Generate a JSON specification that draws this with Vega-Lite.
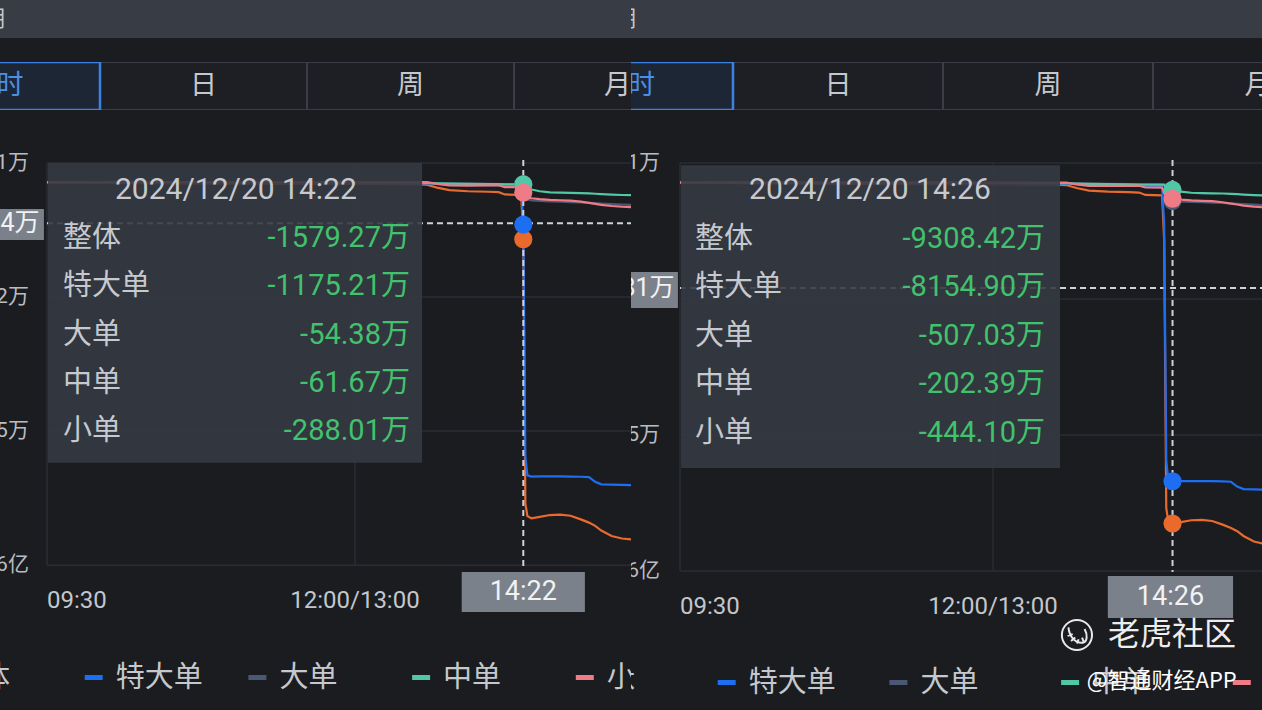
{
"$schema": "https://vega.github.io/schema/vega-lite/v6.json",
"background": "#1b1c20",
"padding": 0,
"config": {"view": {"stroke": null}, "concat": {"spacing": 0}},
"datasets": {
"lines": [
{"t":0,"s":"整体","v":0},{"t":0,"s":"特大单","v":0},{"t":0,"s":"大单","v":0},{"t":0,"s":"中单","v":0},{"t":0,"s":"小单","v":0},
{"t":30,"s":"整体","v":-20},{"t":30,"s":"特大单","v":-10},{"t":30,"s":"大单","v":-5},{"t":30,"s":"中单","v":5},{"t":30,"s":"小单","v":-10},
{"t":60,"s":"整体","v":-30},{"t":60,"s":"特大单","v":-15},{"t":60,"s":"大单","v":-10},{"t":60,"s":"中单","v":0},{"t":60,"s":"小单","v":-5},
{"t":90,"s":"整体","v":-40},{"t":90,"s":"特大单","v":-20},{"t":90,"s":"大单","v":-10},{"t":90,"s":"中单","v":-5},{"t":90,"s":"小单","v":-5},
{"t":120,"s":"整体","v":-45},{"t":120,"s":"特大单","v":-25},{"t":120,"s":"大单","v":-10},{"t":120,"s":"中单","v":-5},{"t":120,"s":"小单","v":-5},
{"t":150,"s":"整体","v":-50},{"t":150,"s":"特大单","v":-25},{"t":150,"s":"大单","v":-15},{"t":150,"s":"中单","v":-10},{"t":150,"s":"小单","v":0},
{"t":180,"s":"整体","v":-60},{"t":180,"s":"特大单","v":-30},{"t":180,"s":"大单","v":-15},{"t":180,"s":"中单","v":-15},{"t":180,"s":"小单","v":0},
{"t":185,"s":"整体","v":-70},{"t":185,"s":"特大单","v":-30},{"t":185,"s":"大单","v":-20},{"t":185,"s":"中单","v":-20},{"t":185,"s":"小单","v":0},
{"t":190,"s":"整体","v":-150},{"t":190,"s":"特大单","v":-45},{"t":190,"s":"大单","v":-25},{"t":190,"s":"中单","v":-30},{"t":190,"s":"小单","v":-50},
{"t":196,"s":"整体","v":-220},{"t":196,"s":"特大单","v":-60},{"t":196,"s":"大单","v":-30},{"t":196,"s":"中单","v":-40},{"t":196,"s":"小单","v":-90},
{"t":205,"s":"整体","v":-250},{"t":205,"s":"特大单","v":-70},{"t":205,"s":"大单","v":-40},{"t":205,"s":"中单","v":-45},{"t":205,"s":"小单","v":-95},
{"t":215,"s":"整体","v":-265},{"t":215,"s":"特大单","v":-80},{"t":215,"s":"大单","v":-45},{"t":215,"s":"中单","v":-50},{"t":215,"s":"小单","v":-90},
{"t":220,"s":"整体","v":-275},{"t":220,"s":"特大单","v":-85},{"t":220,"s":"大单","v":-50},{"t":220,"s":"中单","v":-55},{"t":220,"s":"小单","v":-85},
{"t":223,"s":"整体","v":-340},{"t":223,"s":"特大单","v":-90},{"t":223,"s":"大单","v":-55},{"t":223,"s":"中单","v":-58},{"t":223,"s":"小单","v":-137},
{"t":231,"s":"整体","v":-350},{"t":231,"s":"特大单","v":-92},{"t":231,"s":"大单","v":-60},{"t":231,"s":"中单","v":-60},{"t":231,"s":"小单","v":-138},
{"t":232,"s":"整体","v":-1579.27},{"t":232,"s":"特大单","v":-1175.21},{"t":232,"s":"大单","v":-54.38},{"t":232,"s":"中单","v":-61.67},{"t":232,"s":"小单","v":-288.01},
{"t":233,"s":"整体","v":-8900},{"t":233,"s":"特大单","v":-7600},{"t":233,"s":"大单","v":-400},{"t":233,"s":"中单","v":-150},{"t":233,"s":"小单","v":-380},
{"t":234,"s":"整体","v":-9250},{"t":234,"s":"特大单","v":-8120},{"t":234,"s":"大单","v":-480},{"t":234,"s":"中单","v":-190},{"t":234,"s":"小单","v":-420},
{"t":236,"s":"整体","v":-9308.42},{"t":236,"s":"特大单","v":-8154.9},{"t":236,"s":"大单","v":-507.03},{"t":236,"s":"中单","v":-202.39},{"t":236,"s":"小单","v":-444.1},
{"t":240,"s":"整体","v":-9270},{"t":240,"s":"特大单","v":-8150},{"t":240,"s":"大单","v":-520},{"t":240,"s":"中单","v":-250},{"t":240,"s":"小单","v":-470},
{"t":245,"s":"整体","v":-9220},{"t":245,"s":"特大单","v":-8150},{"t":245,"s":"大单","v":-530},{"t":245,"s":"中单","v":-280},{"t":245,"s":"小单","v":-490},
{"t":250,"s":"整体","v":-9210},{"t":250,"s":"特大单","v":-8150},{"t":250,"s":"大单","v":-540},{"t":250,"s":"中单","v":-290},{"t":250,"s":"小单","v":-500},
{"t":255,"s":"整体","v":-9240},{"t":255,"s":"特大单","v":-8155},{"t":255,"s":"大单","v":-550},{"t":255,"s":"中单","v":-295},{"t":255,"s":"小单","v":-510},
{"t":260,"s":"整体","v":-9340},{"t":260,"s":"特大单","v":-8160},{"t":260,"s":"大单","v":-560},{"t":260,"s":"中单","v":-300},{"t":260,"s":"小单","v":-540},
{"t":264,"s":"整体","v":-9430},{"t":264,"s":"特大单","v":-8170},{"t":264,"s":"大单","v":-570},{"t":264,"s":"中单","v":-310},{"t":264,"s":"小单","v":-575},
{"t":267,"s":"整体","v":-9520},{"t":267,"s":"特大单","v":-8300},{"t":267,"s":"大单","v":-580},{"t":267,"s":"中单","v":-320},{"t":267,"s":"小单","v":-600},
{"t":270,"s":"整体","v":-9650},{"t":270,"s":"特大单","v":-8370},{"t":270,"s":"大单","v":-590},{"t":270,"s":"中单","v":-330},{"t":270,"s":"小单","v":-630},
{"t":275,"s":"整体","v":-9800},{"t":275,"s":"特大单","v":-8380},{"t":275,"s":"大单","v":-605},{"t":275,"s":"中单","v":-345},{"t":275,"s":"小单","v":-660},
{"t":280,"s":"整体","v":-9870},{"t":280,"s":"特大单","v":-8385},{"t":280,"s":"大单","v":-620},{"t":280,"s":"中单","v":-355},{"t":280,"s":"小单","v":-680},
{"t":285,"s":"整体","v":-9900},{"t":285,"s":"特大单","v":-8390},{"t":285,"s":"大单","v":-630},{"t":285,"s":"中单","v":-360},{"t":285,"s":"小单","v":-690}
],
"ylab": [{"v":531,"label":"531万"},{"v":-3182,"label":"-3182万"},{"v":-6895,"label":"-6895万"},{"v":-10608,"label":"-1.06亿"}],
"legend": [{"s":"整体"},{"s":"特大单"},{"s":"大单"},{"s":"中单"},{"s":"小单"}],
"tabs": [{"tab":"分时"},{"tab":"日"},{"tab":"周"},{"tab":"月"}],
"dotsL": [{"s":"大单","t":232,"v":-54.38},{"s":"整体","t":232,"v":-1579.27},{"s":"特大单","t":232,"v":-1175.21},{"s":"中单","t":232,"v":-61.67},{"s":"小单","t":232,"v":-288.01}],
"dotsR": [{"s":"大单","t":236,"v":-507.03},{"s":"整体","t":236,"v":-9308.42},{"s":"特大单","t":236,"v":-8154.9},{"s":"中单","t":236,"v":-202.39},{"s":"小单","t":236,"v":-444.1}],
"tipL": [{"row":1,"label":"整体","value":"-1579.27万"},{"row":2,"label":"特大单","value":"-1175.21万"},{"row":3,"label":"大单","value":"-54.38万"},{"row":4,"label":"中单","value":"-61.67万"},{"row":5,"label":"小单","value":"-288.01万"}],
"tipR": [{"row":1,"label":"整体","value":"-9308.42万"},{"row":2,"label":"特大单","value":"-8154.90万"},{"row":3,"label":"大单","value":"-507.03万"},{"row":4,"label":"中单","value":"-202.39万"},{"row":5,"label":"小单","value":"-444.10万"}],
"crossL": [{"t":232,"v":-1134,"ylabel":"-1134万","time":"14:22","row":0,"title":"2024/12/20 14:22"}],
"crossR": [{"t":236,"v":-2881,"ylabel":"-2881万","time":"14:26","row":0,"title":"2024/12/20 14:26"}]
},
"hconcat": [
{
"vconcat": [
{"width":631,"height":38,"view":{"fill":"#373c45","stroke":null},
 "data":{"values":[{"c":"期"}]},
 "mark":{"type":"text","align":"right","baseline":"middle","fontSize":22,"font":"Noto Sans CJK SC","color":"#c5c8cc","clip":true},
 "encoding":{"x":{"field":"c","type":"nominal","bandPosition":1,"scale":{"type":"band","range":[-30,5],"paddingInner":0,"paddingOuter":0},"axis":null},"text":{"field":"c"}}},
{"vconcat":[
 {"width":631,"height":48,"data":{"name":"tabs"},
  "layer":[
   {"mark":{"type":"rect","fill":"#1d1f24","stroke":"#3a3e47","strokeWidth":2,"clip":true},
    "encoding":{"x":{"field":"tab","type":"nominal","scale":{"type":"band","domain":["分时","日","周","月"],"range":[-107,721],"paddingInner":0,"paddingOuter":0},"axis":null}}},
   {"data":{"values":[{"tab":"分时"}]},"mark":{"type":"rect","fill":"#1d2634","stroke":"#3c82e2","strokeWidth":2.5,"clip":true},
    "encoding":{"x":{"field":"tab","type":"nominal","scale":{"type":"band","domain":["分时","日","周","月"],"range":[-107,721],"paddingInner":0,"paddingOuter":0},"axis":null}}},
   {"mark":{"type":"text","align":"center","baseline":"middle","fontSize":27,"font":"Noto Sans CJK SC","clip":true},
    "encoding":{"x":{"field":"tab","type":"nominal","scale":{"type":"band","domain":["分时","日","周","月"],"range":[-107,721],"paddingInner":0,"paddingOuter":0},"axis":null},
     "text":{"field":"tab"},
     "color":{"condition":{"test":"datum.tab === '分时'","value":"#4b8fe8"},"value":"#c5c8cc"}}}
  ]},
 {"width":631,"height":535,
  "layer":[
   {"layer":[
    {"data":{"name":"ylab"},"mark":{"type":"rule","color":"#2a2d34","strokeWidth":1.5,"clip":true},
     "encoding":{"x":{"datum":0,"type":"quantitative","scale":{"domain":[-22.89,284.46],"nice":false,"zero":false},"axis":null},"x2":{"datum":300},
      "y":{"field":"v","type":"quantitative","scale":{"domain":[-12820,2000],"nice":false,"zero":false},"axis":null}}},
    {"data":{"values":[{"t":0},{"t":150}]},"mark":{"type":"rule","color":"#2a2d34","strokeWidth":1.5,"clip":true},
     "encoding":{"x":{"field":"t","type":"quantitative","scale":{"domain":[-22.89,284.46],"nice":false,"zero":false},"axis":null},
      "y":{"datum":531,"type":"quantitative","scale":{"domain":[-12820,2000],"nice":false,"zero":false},"axis":null},"y2":{"datum":-10608}}},
    {"data":{"name":"ylab"},"mark":{"type":"text","align":"right","baseline":"middle","fontSize":21,"font":"Roboto, Noto Sans CJK SC","color":"#b9bdc3","clip":true},
     "encoding":{"x":{"datum":-8.8,"type":"quantitative","scale":{"domain":[-22.89,284.46],"nice":false,"zero":false},"axis":null},
      "y":{"field":"v","type":"quantitative","scale":{"domain":[-12820,2000],"nice":false,"zero":false},"axis":null},"text":{"field":"label"}}},
    {"data":{"values":[{"t":0,"label":"09:30"}]},"mark":{"type":"text","align":"left","baseline":"middle","fontSize":24,"font":"Roboto","color":"#c3c7cc","clip":true},
     "encoding":{"x":{"field":"t","type":"quantitative","scale":{"domain":[-22.89,284.46],"nice":false,"zero":false},"axis":null},
      "y":{"datum":-11601,"type":"quantitative","scale":{"domain":[-12820,2000],"nice":false,"zero":false},"axis":null},"text":{"field":"label"}}},
    {"data":{"values":[{"t":150,"label":"12:00/13:00"}]},"mark":{"type":"text","align":"center","baseline":"middle","fontSize":24,"font":"Roboto","color":"#c3c7cc","clip":true},
     "encoding":{"x":{"field":"t","type":"quantitative","scale":{"domain":[-22.89,284.46],"nice":false,"zero":false},"axis":null},
      "y":{"datum":-11601,"type":"quantitative","scale":{"domain":[-12820,2000],"nice":false,"zero":false},"axis":null},"text":{"field":"label"}}},
    {"data":{"name":"crossL"},"mark":{"type":"rule","color":"#cfd2d6","strokeWidth":2,"strokeDash":[6,4],"clip":true},
     "encoding":{"x":{"datum":0,"type":"quantitative","scale":{"domain":[-22.89,284.46],"nice":false,"zero":false},"axis":null},"x2":{"datum":300},
      "y":{"field":"v","type":"quantitative","scale":{"domain":[-12820,2000],"nice":false,"zero":false},"axis":null}}},
    {"data":{"name":"lines"},"mark":{"type":"line","strokeWidth":2.2,"clip":true},
     "encoding":{"x":{"field":"t","type":"quantitative","scale":{"domain":[-22.89,284.46],"nice":false,"zero":false},"axis":null},
      "y":{"field":"v","type":"quantitative","scale":{"domain":[-12820,2000],"nice":false,"zero":false},"axis":null},
      "color":{"field":"s","type":"nominal","scale":{"domain":["整体","特大单","大单","中单","小单"],"range":["#ea6a2e","#1e6ef2","#4b5873","#52c7a7","#ee7b86"]},"legend":null}}},
    {"data":{"name":"crossL"},"mark":{"type":"rule","color":"#cfd2d6","strokeWidth":2,"strokeDash":[6,4],"clip":true},
     "encoding":{"x":{"field":"t","type":"quantitative","scale":{"domain":[-22.89,284.46],"nice":false,"zero":false},"axis":null},
      "y":{"datum":615,"type":"quantitative","scale":{"domain":[-12820,2000],"nice":false,"zero":false},"axis":null},"y2":{"datum":-10659}}},
    {"data":{"name":"dotsL"},"mark":{"type":"point","filled":true,"size":330,"opacity":1,"clip":true},
     "encoding":{"x":{"field":"t","type":"quantitative","scale":{"domain":[-22.89,284.46],"nice":false,"zero":false},"axis":null},
      "y":{"field":"v","type":"quantitative","scale":{"domain":[-12820,2000],"nice":false,"zero":false},"axis":null},
      "color":{"field":"s","type":"nominal","scale":{"domain":["整体","特大单","大单","中单","小单"],"range":["#ea6a2e","#1e6ef2","#4b5873","#52c7a7","#ee7b86"]},"legend":null}}},
    {"data":{"name":"crossL"},"mark":{"type":"rect","fill":"#7b818b","clip":true},
     "encoding":{"x":{"datum":-30,"type":"quantitative","scale":{"domain":[-22.89,284.46],"nice":false,"zero":false},"axis":null},"x2":{"datum":-1.5},
      "y":{"datum":-742,"type":"quantitative","scale":{"domain":[-12820,2000],"nice":false,"zero":false},"axis":null},"y2":{"datum":-1601}}},
    {"data":{"name":"crossL"},"mark":{"type":"text","align":"right","baseline":"middle","fontSize":25,"font":"Roboto, Noto Sans CJK SC","color":"#f2f2f2","clip":true},
     "encoding":{"x":{"datum":-3.6,"type":"quantitative","scale":{"domain":[-22.89,284.46],"nice":false,"zero":false},"axis":null},
      "y":{"field":"v","type":"quantitative","scale":{"domain":[-12820,2000],"nice":false,"zero":false},"axis":null},"text":{"field":"ylabel"}}},
    {"data":{"name":"crossL"},"mark":{"type":"rect","fill":"#7b818b","clip":true},
     "encoding":{"x":{"datum":202,"type":"quantitative","scale":{"domain":[-22.89,284.46],"nice":false,"zero":false},"axis":null},"x2":{"datum":262},
      "y":{"datum":-10797,"type":"quantitative","scale":{"domain":[-12820,2000],"nice":false,"zero":false},"axis":null},"y2":{"datum":-11905}}},
    {"data":{"name":"crossL"},"mark":{"type":"text","align":"center","baseline":"middle","fontSize":27,"font":"Roboto","color":"#f2f2f2","clip":true},
     "encoding":{"x":{"field":"t","type":"quantitative","scale":{"domain":[-22.89,284.46],"nice":false,"zero":false},"axis":null},
      "y":{"datum":-11352,"type":"quantitative","scale":{"domain":[-12820,2000],"nice":false,"zero":false},"axis":null},"text":{"field":"time"}}}
   ]},
   {"layer":[
    {"data":{"name":"crossL"},"mark":{"type":"rect","fill":"#353a43","opacity":0.9,"clip":true},
     "encoding":{"x":{"datum":0.5,"type":"quantitative","scale":{"domain":[-22.89,284.46],"nice":false,"zero":false},"axis":null},"x2":{"datum":182.7},
      "y":{"datum":-0.56,"type":"quantitative","scale":{"domain":[-1.66,9.44],"nice":false,"zero":false,"reverse":true},"axis":null},"y2":{"datum":5.66}}},
    {"data":{"name":"crossL"},"mark":{"type":"text","align":"center","baseline":"middle","fontSize":30,"font":"Roboto","color":"#c6c9ce","clip":true},
     "encoding":{"x":{"datum":92,"type":"quantitative","scale":{"domain":[-22.89,284.46],"nice":false,"zero":false},"axis":null},
      "y":{"field":"row","type":"quantitative","scale":{"domain":[-1.66,9.44],"nice":false,"zero":false,"reverse":true},"axis":null},"text":{"field":"title"}}},
    {"data":{"name":"tipL"},"mark":{"type":"text","align":"left","baseline":"middle","fontSize":29,"font":"Noto Sans CJK SC","color":"#c6c9ce","clip":true},
     "encoding":{"x":{"datum":7.8,"type":"quantitative","scale":{"domain":[-22.89,284.46],"nice":false,"zero":false},"axis":null},
      "y":{"field":"row","type":"quantitative","scale":{"domain":[-1.66,9.44],"nice":false,"zero":false,"reverse":true},"axis":null},"text":{"field":"label"}}},
    {"data":{"name":"tipL"},"mark":{"type":"text","align":"right","baseline":"middle","fontSize":29,"font":"Roboto, Noto Sans CJK SC","color":"#41c26c","clip":true},
     "encoding":{"x":{"datum":176.8,"type":"quantitative","scale":{"domain":[-22.89,284.46],"nice":false,"zero":false},"axis":null},
      "y":{"field":"row","type":"quantitative","scale":{"domain":[-1.66,9.44],"nice":false,"zero":false,"reverse":true},"axis":null},"text":{"field":"value"}}}
   ]}
  ],
  "resolve":{"scale":{"y":"independent"}}},
 {"width":631,"height":65,"data":{"name":"legend"},
  "layer":[
   {"mark":{"type":"point","shape":"M0,-0.14H1V0.14H0Z","filled":true,"size":1296,"opacity":1,"clip":true},
    "encoding":{"x":{"field":"s","type":"nominal","bandPosition":0,"scale":{"type":"band","domain":["整体","特大单","大单","中单","小单"],"range":[-79,739.5],"paddingInner":0,"paddingOuter":0},"axis":null},
     "color":{"field":"s","type":"nominal","scale":{"domain":["整体","特大单","大单","中单","小单"],"range":["#ea6a2e","#1e6ef2","#4b5873","#52c7a7","#ee7b86"]},"legend":null}}},
   {"mark":{"type":"text","align":"left","baseline":"middle","dx":31,"fontSize":29,"font":"Noto Sans CJK SC","color":"#c5c8cc","clip":true},
    "encoding":{"x":{"field":"s","type":"nominal","bandPosition":0,"scale":{"type":"band","domain":["整体","特大单","大单","中单","小单"],"range":[-79,739.5],"paddingInner":0,"paddingOuter":0},"axis":null},
     "text":{"field":"s"}}}
  ]}
 ],"spacing":0,"bounds":"flush"}
],"spacing":24,"bounds":"flush"
},
{
"vconcat": [
{"width":631,"height":38,"view":{"fill":"#373c45","stroke":null},
 "data":{"values":[{"c":"期"}]},
 "mark":{"type":"text","align":"right","baseline":"middle","fontSize":22,"font":"Noto Sans CJK SC","color":"#c5c8cc","clip":true},
 "encoding":{"x":{"field":"c","type":"nominal","bandPosition":1,"scale":{"type":"band","range":[-30,5],"paddingInner":0,"paddingOuter":0},"axis":null},"text":{"field":"c"}}},
{"vconcat":[
 {"width":631,"height":48,"data":{"name":"tabs"},
  "layer":[
   {"mark":{"type":"rect","fill":"#1d1f24","stroke":"#3a3e47","strokeWidth":2,"clip":true},
    "encoding":{"x":{"field":"tab","type":"nominal","scale":{"type":"band","domain":["分时","日","周","月"],"range":[-108,732],"paddingInner":0,"paddingOuter":0},"axis":null}}},
   {"data":{"values":[{"tab":"分时"}]},"mark":{"type":"rect","fill":"#1d2634","stroke":"#3c82e2","strokeWidth":2.5,"clip":true},
    "encoding":{"x":{"field":"tab","type":"nominal","scale":{"type":"band","domain":["分时","日","周","月"],"range":[-108,732],"paddingInner":0,"paddingOuter":0},"axis":null}}},
   {"mark":{"type":"text","align":"center","baseline":"middle","fontSize":27,"font":"Noto Sans CJK SC","clip":true},
    "encoding":{"x":{"field":"tab","type":"nominal","scale":{"type":"band","domain":["分时","日","周","月"],"range":[-108,732],"paddingInner":0,"paddingOuter":0},"axis":null},
     "text":{"field":"tab"},
     "color":{"condition":{"test":"datum.tab === '分时'","value":"#4b8fe8"},"value":"#c5c8cc"}}}
  ]},
 {"width":631,"height":545,
  "layer":[
   {"layer":[
    {"data":{"name":"ylab"},"mark":{"type":"rule","color":"#2a2d34","strokeWidth":1.5,"clip":true},
     "encoding":{"x":{"datum":0,"type":"quantitative","scale":{"domain":[-23.48,278.87],"nice":false,"zero":false},"axis":null},"x2":{"datum":300},
      "y":{"field":"v","type":"quantitative","scale":{"domain":[-12899,1979],"nice":false,"zero":false},"axis":null}}},
    {"data":{"values":[{"t":0},{"t":150}]},"mark":{"type":"rule","color":"#2a2d34","strokeWidth":1.5,"clip":true},
     "encoding":{"x":{"field":"t","type":"quantitative","scale":{"domain":[-23.48,278.87],"nice":false,"zero":false},"axis":null},
      "y":{"datum":531,"type":"quantitative","scale":{"domain":[-12899,1979],"nice":false,"zero":false},"axis":null},"y2":{"datum":-10608}}},
    {"data":{"name":"ylab"},"mark":{"type":"text","align":"right","baseline":"middle","fontSize":21,"font":"Roboto, Noto Sans CJK SC","color":"#b9bdc3","clip":true},
     "encoding":{"x":{"datum":-9.6,"type":"quantitative","scale":{"domain":[-23.48,278.87],"nice":false,"zero":false},"axis":null},
      "y":{"field":"v","type":"quantitative","scale":{"domain":[-12899,1979],"nice":false,"zero":false},"axis":null},"text":{"field":"label"}}},
    {"data":{"values":[{"t":0,"label":"09:30"}]},"mark":{"type":"text","align":"left","baseline":"middle","fontSize":24,"font":"Roboto","color":"#c3c7cc","clip":true},
     "encoding":{"x":{"field":"t","type":"quantitative","scale":{"domain":[-23.48,278.87],"nice":false,"zero":false},"axis":null},
      "y":{"datum":-11589,"type":"quantitative","scale":{"domain":[-12899,1979],"nice":false,"zero":false},"axis":null},"text":{"field":"label"}}},
    {"data":{"values":[{"t":150,"label":"12:00/13:00"}]},"mark":{"type":"text","align":"center","baseline":"middle","fontSize":24,"font":"Roboto","color":"#c3c7cc","clip":true},
     "encoding":{"x":{"field":"t","type":"quantitative","scale":{"domain":[-23.48,278.87],"nice":false,"zero":false},"axis":null},
      "y":{"datum":-11589,"type":"quantitative","scale":{"domain":[-12899,1979],"nice":false,"zero":false},"axis":null},"text":{"field":"label"}}},
    {"data":{"name":"crossR"},"mark":{"type":"rule","color":"#cfd2d6","strokeWidth":2,"strokeDash":[6,4],"clip":true},
     "encoding":{"x":{"datum":0,"type":"quantitative","scale":{"domain":[-23.48,278.87],"nice":false,"zero":false},"axis":null},"x2":{"datum":300},
      "y":{"field":"v","type":"quantitative","scale":{"domain":[-12899,1979],"nice":false,"zero":false},"axis":null}}},
    {"data":{"name":"lines"},"mark":{"type":"line","strokeWidth":2.2,"clip":true},
     "encoding":{"x":{"field":"t","type":"quantitative","scale":{"domain":[-23.48,278.87],"nice":false,"zero":false},"axis":null},
      "y":{"field":"v","type":"quantitative","scale":{"domain":[-12899,1979],"nice":false,"zero":false},"axis":null},
      "color":{"field":"s","type":"nominal","scale":{"domain":["整体","特大单","大单","中单","小单"],"range":["#ea6a2e","#1e6ef2","#4b5873","#52c7a7","#ee7b86"]},"legend":null}}},
    {"data":{"name":"crossR"},"mark":{"type":"rule","color":"#cfd2d6","strokeWidth":2,"strokeDash":[6,4],"clip":true},
     "encoding":{"x":{"field":"t","type":"quantitative","scale":{"domain":[-23.48,278.87],"nice":false,"zero":false},"axis":null},
      "y":{"datum":614,"type":"quantitative","scale":{"domain":[-12899,1979],"nice":false,"zero":false},"axis":null},"y2":{"datum":-10633}}},
    {"data":{"name":"dotsR"},"mark":{"type":"point","filled":true,"size":330,"opacity":1,"clip":true},
     "encoding":{"x":{"field":"t","type":"quantitative","scale":{"domain":[-23.48,278.87],"nice":false,"zero":false},"axis":null},
      "y":{"field":"v","type":"quantitative","scale":{"domain":[-12899,1979],"nice":false,"zero":false},"axis":null},
      "color":{"field":"s","type":"nominal","scale":{"domain":["整体","特大单","大单","中单","小单"],"range":["#ea6a2e","#1e6ef2","#4b5873","#52c7a7","#ee7b86"]},"legend":null}}},
    {"data":{"name":"crossR"},"mark":{"type":"rect","fill":"#7b818b","clip":true},
     "encoding":{"x":{"datum":-30,"type":"quantitative","scale":{"domain":[-23.48,278.87],"nice":false,"zero":false},"axis":null},"x2":{"datum":-1},
      "y":{"datum":-2443,"type":"quantitative","scale":{"domain":[-12899,1979],"nice":false,"zero":false},"axis":null},"y2":{"datum":-3426}}},
    {"data":{"name":"crossR"},"mark":{"type":"text","align":"right","baseline":"middle","fontSize":25,"font":"Roboto, Noto Sans CJK SC","color":"#f2f2f2","clip":true},
     "encoding":{"x":{"datum":-2.6,"type":"quantitative","scale":{"domain":[-23.48,278.87],"nice":false,"zero":false},"axis":null},
      "y":{"field":"v","type":"quantitative","scale":{"domain":[-12899,1979],"nice":false,"zero":false},"axis":null},"text":{"field":"ylabel"}}},
    {"data":{"name":"crossR"},"mark":{"type":"rect","fill":"#7b818b","clip":true},
     "encoding":{"x":{"datum":205,"type":"quantitative","scale":{"domain":[-23.48,278.87],"nice":false,"zero":false},"axis":null},"x2":{"datum":265},
      "y":{"datum":-10743,"type":"quantitative","scale":{"domain":[-12899,1979],"nice":false,"zero":false},"axis":null},"y2":{"datum":-11890}}},
    {"data":{"name":"crossR"},"mark":{"type":"text","align":"center","baseline":"middle","fontSize":27,"font":"Roboto","color":"#f2f2f2","clip":true},
     "encoding":{"x":{"datum":235,"type":"quantitative","scale":{"domain":[-23.48,278.87],"nice":false,"zero":false},"axis":null},
      "y":{"datum":-11316,"type":"quantitative","scale":{"domain":[-12899,1979],"nice":false,"zero":false},"axis":null},"text":{"field":"time"}}},
    {"data":{"values":[{"wm":"老虎社区"}]},"mark":{"type":"point","shape":"circle","filled":false,"stroke":"#ffffff","strokeWidth":2,"size":908,"opacity":0.9,"clip":true},
     "encoding":{"x":{"datum":190.2,"type":"quantitative","scale":{"domain":[-23.48,278.87],"nice":false,"zero":false},"axis":null},
      "y":{"datum":-12353,"type":"quantitative","scale":{"domain":[-12899,1979],"nice":false,"zero":false},"axis":null}}},
    {"data":{"values":[{"wm":"老虎社区"}]},"mark":{"type":"point","shape":"M-0.5,-0.45C-0.45,0.1 -0.1,0.5 0.35,0.45C0.6,0.4 0.65,0 0.45,-0.35M-0.55,0.05L-0.25,-0.05M-0.35,0.35L-0.1,0.15M0,0.5L0.1,0.25M0.4,0.4L0.3,0.15","filled":false,"stroke":"#ffffff","strokeWidth":2,"size":1156,"opacity":0.9,"clip":true},
     "encoding":{"x":{"datum":190.2,"type":"quantitative","scale":{"domain":[-23.48,278.87],"nice":false,"zero":false},"axis":null},
      "y":{"datum":-12353,"type":"quantitative","scale":{"domain":[-12899,1979],"nice":false,"zero":false},"axis":null}}},
    {"data":{"values":[{"wm":"老虎社区"}]},"mark":{"type":"text","align":"center","baseline":"middle","fontSize":32,"font":"Noto Sans CJK SC","color":"#ffffff","opacity":0.92,"clip":true},
     "encoding":{"x":{"datum":235.7,"type":"quantitative","scale":{"domain":[-23.48,278.87],"nice":false,"zero":false},"axis":null},
      "y":{"datum":-12353,"type":"quantitative","scale":{"domain":[-12899,1979],"nice":false,"zero":false},"axis":null},"text":{"field":"wm"}}}
   ]},
   {"layer":[
    {"data":{"name":"crossR"},"mark":{"type":"rect","fill":"#353a43","opacity":0.9,"clip":true},
     "encoding":{"x":{"datum":0.5,"type":"quantitative","scale":{"domain":[-23.48,278.87],"nice":false,"zero":false},"axis":null},"x2":{"datum":182.1},
      "y":{"datum":-0.51,"type":"quantitative","scale":{"domain":[-1.646,9.568],"nice":false,"zero":false,"reverse":true},"axis":null},"y2":{"datum":5.72}}},
    {"data":{"name":"crossR"},"mark":{"type":"text","align":"center","baseline":"middle","fontSize":30,"font":"Roboto","color":"#c6c9ce","clip":true},
     "encoding":{"x":{"datum":91,"type":"quantitative","scale":{"domain":[-23.48,278.87],"nice":false,"zero":false},"axis":null},
      "y":{"field":"row","type":"quantitative","scale":{"domain":[-1.646,9.568],"nice":false,"zero":false,"reverse":true},"axis":null},"text":{"field":"title"}}},
    {"data":{"name":"tipR"},"mark":{"type":"text","align":"left","baseline":"middle","fontSize":29,"font":"Noto Sans CJK SC","color":"#c6c9ce","clip":true},
     "encoding":{"x":{"datum":7.2,"type":"quantitative","scale":{"domain":[-23.48,278.87],"nice":false,"zero":false},"axis":null},
      "y":{"field":"row","type":"quantitative","scale":{"domain":[-1.646,9.568],"nice":false,"zero":false,"reverse":true},"axis":null},"text":{"field":"label"}}},
    {"data":{"name":"tipR"},"mark":{"type":"text","align":"right","baseline":"middle","fontSize":29,"font":"Roboto, Noto Sans CJK SC","color":"#41c26c","clip":true},
     "encoding":{"x":{"datum":174.9,"type":"quantitative","scale":{"domain":[-23.48,278.87],"nice":false,"zero":false},"axis":null},
      "y":{"field":"row","type":"quantitative","scale":{"domain":[-1.646,9.568],"nice":false,"zero":false,"reverse":true},"axis":null},"text":{"field":"value"}}}
   ]}
  ],
  "resolve":{"scale":{"y":"independent"}}},
 {"width":631,"height":55,"data":{"name":"legend"},
  "layer":[
   {"mark":{"type":"point","shape":"M0,-0.14H1V0.14H0Z","filled":true,"size":1296,"opacity":1,"clip":true},
    "encoding":{"x":{"field":"s","type":"nominal","bandPosition":0,"scale":{"type":"band","domain":["整体","特大单","大单","中单","小单"],"range":[-85,773.5],"paddingInner":0,"paddingOuter":0},"axis":null},
     "color":{"field":"s","type":"nominal","scale":{"domain":["整体","特大单","大单","中单","小单"],"range":["#ea6a2e","#1e6ef2","#4b5873","#52c7a7","#ee7b86"]},"legend":null}}},
   {"mark":{"type":"text","align":"left","baseline":"middle","dx":31,"fontSize":29,"font":"Noto Sans CJK SC","color":"#c5c8cc","clip":true},
    "encoding":{"x":{"field":"s","type":"nominal","bandPosition":0,"scale":{"type":"band","domain":["整体","特大单","大单","中单","小单"],"range":[-85,773.5],"paddingInner":0,"paddingOuter":0},"axis":null},
     "text":{"field":"s"}}},
   {"data":{"values":[{"s":"小单","wm":"@智通财经APP"}]},"mark":{"type":"text","align":"right","baseline":"middle","dx":4,"dy":-2,"fontSize":22,"font":"Noto Sans CJK SC","color":"#ffffff","clip":true},
    "encoding":{"x":{"field":"s","type":"nominal","bandPosition":0,"scale":{"type":"band","domain":["整体","特大单","大单","中单","小单"],"range":[-85,773.5],"paddingInner":0,"paddingOuter":0},"axis":null},
     "text":{"field":"wm"}}}
  ]}
 ],"spacing":0,"bounds":"flush"}
],"spacing":24,"bounds":"flush"
}
],
"spacing": 0
}
